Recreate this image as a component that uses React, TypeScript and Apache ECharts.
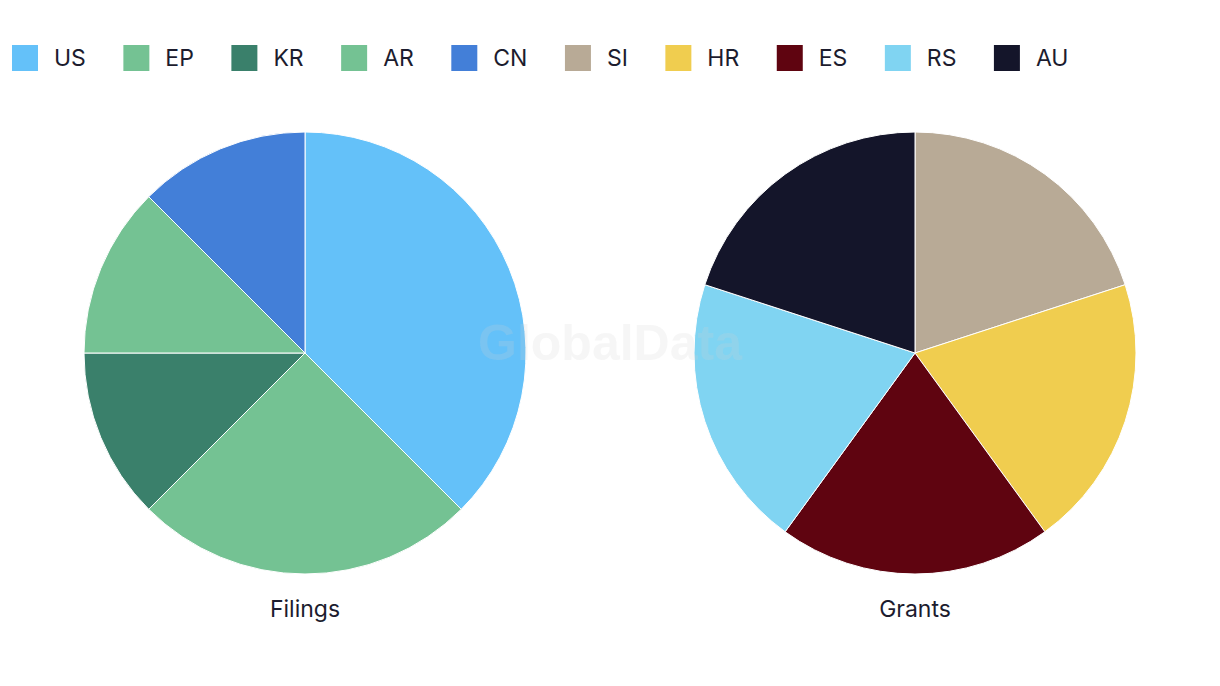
import React, { useEffect, useRef } from "react";
import * as echarts from "echarts";

const filingsCategories = ["US", "EP", "KR", "AR", "CN"];
const filingsValues = [3, 2, 1, 1, 1];
const filingsColors = ["#64c1f9", "#74c293", "#3a806b", "#74c293", "#437fd8"];

const grantsCategories = ["SI", "HR", "ES", "RS", "AU"];
const grantsValues = [1, 1, 1, 1, 1];
const grantsColors = ["#b8aa96", "#f0cd4f", "#5f0410", "#80d4f2", "#14152a"];

const pieTitles = ["Filings", "Grants"];

const FONT = "Inter, 'Noto Sans', sans-serif";

export default function App() {
  const ref = useRef<HTMLDivElement>(null);
  useEffect(() => {
    if (!ref.current) return;
    const chart = echarts.init(ref.current, undefined, { renderer: "svg" });
    const mk = (cats: string[], vals: number[], cols: string[]) =>
      cats.map((c, i) => ({ name: c, value: vals[i], itemStyle: { color: cols[i] } }));
    const centers = [305, 915];
    chart.setOption({
      animation: false,
      backgroundColor: "#ffffff",
      legend: {
        left: 10,
        top: 43,
        padding: 0,
        itemWidth: 28,
        itemHeight: 28,
        itemGap: 35.5,
        icon: "rect",
        textStyle: {
          fontFamily: FONT,
          fontSize: 23,
          color: "#1c1c2e",
          padding: [0, 0, 0, 10],
        },
        data: [...filingsCategories, ...grantsCategories],
      },
      series: [
        {
          type: "pie",
          name: pieTitles[0],
          center: [centers[0], 353],
          radius: [0, 221],
          startAngle: 90,
          label: { show: false },
          labelLine: { show: false },
          itemStyle: { borderColor: "#ffffff", borderWidth: 1 },
          emphasis: { disabled: true },
          data: mk(filingsCategories, filingsValues, filingsColors),
        },
        {
          type: "pie",
          name: pieTitles[1],
          center: [centers[1], 353],
          radius: [0, 221],
          startAngle: 90,
          label: { show: false },
          labelLine: { show: false },
          itemStyle: { borderColor: "#ffffff", borderWidth: 1 },
          emphasis: { disabled: true },
          data: mk(grantsCategories, grantsValues, grantsColors),
        },
      ],
      graphic: [
        ...pieTitles.map((t, i) => ({
          type: "text",
          x: centers[i],
          y: 609,
          style: {
            text: t,
            fontFamily: FONT,
            fontSize: 23,
            fill: "#1c1c2e",
            align: "center",
            verticalAlign: "middle",
          },
        })),
        {
          type: "text",
          x: 610,
          y: 343,
          z: 100,
          style: {
            text: "GlobalData",
            fontFamily: "'Liberation Sans', Arial, sans-serif",
            fontWeight: "bold",
            fontSize: 50,
            fill: "#d0d0d0",
            opacity: 0.2,
            align: "center",
            verticalAlign: "middle",
          },
        },
      ],
    });
    return () => chart.dispose();
  }, []);
  return (
    <div
      ref={ref}
      style={{ position: "fixed", left: 0, top: 0, width: 1220, height: 686 }}
    />
  );
}
